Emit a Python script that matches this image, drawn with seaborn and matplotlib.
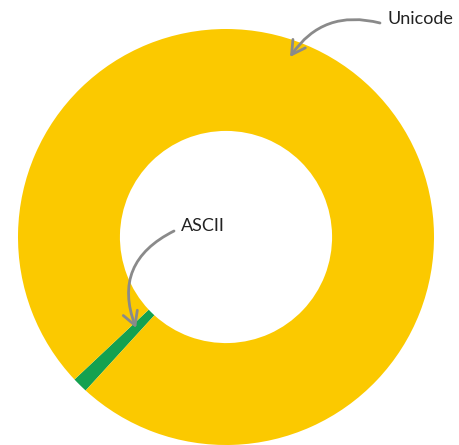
import matplotlib
matplotlib.use("Agg")
import matplotlib.pyplot as plt
import seaborn as sns

# share of characters (percent)
labels = ["ASCII", "Unicode"]
shares = [1.2, 98.8]
colors = ["#14A150", "#FBC900"]

# ASCII band points down-left, at about 225 degrees
ascii_angle = 225.4


def main():
    sns.set_theme(style="white")
    plt.rcParams["font.family"] = ["Lato", "DejaVu Sans"]

    fig = plt.figure(figsize=(4.6, 4.45), dpi=100)
    ax = fig.add_axes([0, 0, 1, 1])

    start = ascii_angle - shares[0] / 100 * 360 / 2
    ax.pie(shares, colors=colors, startangle=start, radius=1.0,
           wedgeprops=dict(width=0.49, linewidth=0))

    # 208 px per unit, centre at pixel (226, 237)
    ax.set_xlim(-226 / 208, (460 - 226) / 208)
    ax.set_ylim(-(445 - 237) / 208, 237 / 208)
    ax.set_axis_off()

    def px(x, y):
        return ((x - 226) / 208, (237 - y) / 208)

    arrow = dict(arrowstyle="->,head_length=0.8,head_width=0.45", color="#8a8a8a",
                 lw=2.0, shrinkA=0, shrinkB=0)

    ax.annotate("", xy=px(290, 57), xytext=px(380, 23),
                arrowprops=dict(arrow, connectionstyle="arc3,rad=0.35"))
    ax.text(*px(388, 19), "Unicode", fontsize=13, color="#222222",
            ha="left", va="center")

    ax.annotate("", xy=px(136, 328), xytext=px(174, 231),
                arrowprops=dict(arrow, connectionstyle="arc3,rad=0.45"))
    ax.text(*px(181, 226), "ASCII", fontsize=13, color="#222222",
            ha="left", va="center")

    fig.savefig("out.png", dpi=100, facecolor="white")
    plt.close(fig)


if __name__ == "__main__":
    main()
